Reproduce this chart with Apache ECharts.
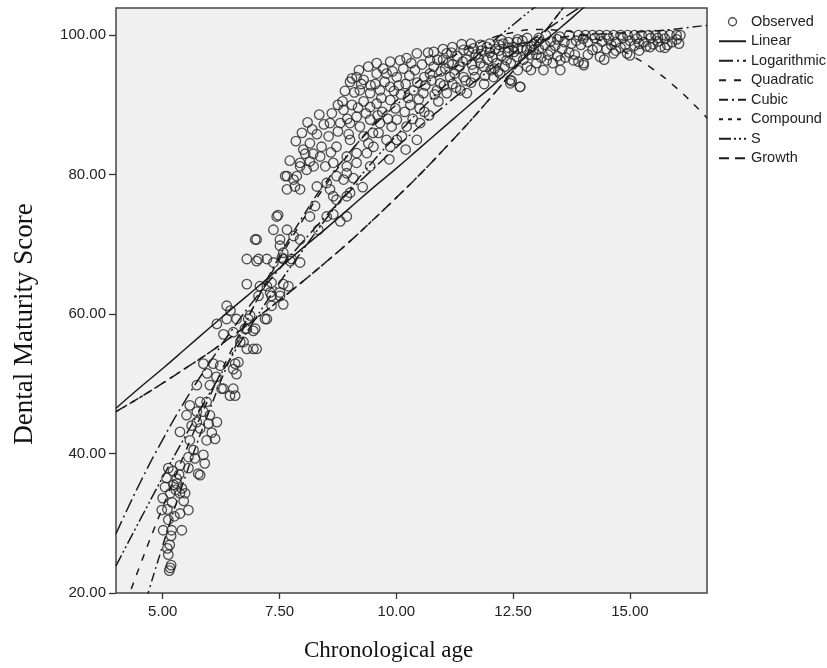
<!DOCTYPE html>
<html><head><meta charset="utf-8">
<script src="https://cdn.jsdelivr.net/npm/echarts@6/dist/echarts.min.js"></script>
<style>html,body{margin:0;padding:0;background:#fff}#c{width:827px;height:668px}</style>
</head><body><div id="c"></div>
<script>
const xTicks = [5, 7.5, 10, 12.5, 15];
const yTicks = [20, 40, 60, 80, 100];
const legendNames = ['Observed','Linear','Logarithmic','Quadratic','Cubic','Compound','S','Growth'];

const curveX = [4,4.5,5,5.5,6,6.5,7,7.5,8,8.5,9,9.5,10,10.5,11,11.5,12,12.5,13,13.5,14,14.5,15,15.5,16,16.5,16.65];
const linearY = [46.5,49.4,52.2,55.1,58.0,60.9,63.7,66.6,69.5,72.3,75.2,78.1,80.9,83.8,86.7,89.6,92.4,95.3,98.2,101.0,103.9,106.8,109.6,112.5,115.4,118.3,119.1];
const logY = [28.5,35.6,42.0,47.8,53.0,57.9,62.4,66.5,70.4,74.1,77.6,80.8,83.9,86.9,89.7,92.4,95.0,97.4,99.8,102.1,104.3,106.4,108.5,110.4,112.4,114.2,114.8];
const quadY = [14.5,23.7,32.3,40.5,48.1,55.2,61.8,67.9,73.5,78.6,83.1,87.1,90.6,93.6,96.1,98.0,99.5,100.4,100.8,100.7,100.0,98.9,97.2,95.1,92.4,89.2,88.1];
const cubicY = [3.3,15.6,26.8,37.0,46.2,54.5,61.8,68.3,74.0,79.0,83.2,86.9,90.0,92.5,94.6,96.2,97.5,98.5,99.2,99.7,100.0,100.2,100.4,100.6,100.9,101.3,101.4];
const compoundY = [46.0,48.0,50.1,52.3,54.5,56.9,59.4,62.0,64.7,67.5,70.4,73.5,76.7,80.0,83.5,87.1,90.9,94.9,99.0,103.3,107.8,112.5,117.4,122.5,127.8,133.4,135.1];
const sY = [23.9,30.3,36.6,42.7,48.6,54.2,59.5,64.5,69.2,73.7,77.9,81.9,85.6,89.2,92.5,95.7,98.7,101.5,104.2,106.7,109.2,111.5,113.7,115.8,117.8,119.7,120.2];
const growthY = [46.0,48.0,50.1,52.3,54.5,56.9,59.4,62.0,64.7,67.5,70.4,73.5,76.7,80.0,83.5,87.1,90.9,94.9,99.0,103.3,107.8,112.5,117.4,122.5,127.8,133.4,135.1];

// observed [age, score]
const observed = [
[5.16,23.6],[5.18,24.0],[5.14,23.2],[5.12,25.5],[5.15,26.9],[5.10,26.4],[5.01,29.0],[5.19,29.0],[5.41,29.0],[4.98,31.9],
[5.37,31.4],[5.55,31.9],[5.00,33.6],[5.16,34.3],[5.37,34.3],[5.48,34.3],[5.05,35.2],[5.30,35.7],[5.12,37.9],[5.37,38.3],
[5.55,37.9],[5.76,37.1],[5.23,35.5],[5.41,35.0],[5.30,36.4],[5.20,33.0],[5.10,32.0],[5.25,31.0],[5.08,36.5],[5.22,37.5],
[5.28,34.8],[5.12,30.5],[5.18,28.2],[5.45,33.2],[5.35,37.0],
[5.55,39.5],[5.69,39.3],[5.87,39.8],[5.58,41.9],[5.94,41.9],[6.12,42.1],[5.37,43.1],[5.73,44.5],[5.98,44.3],[6.16,44.5],
[5.80,43.6],[5.51,45.5],[5.73,46.0],[5.87,46.0],[6.01,45.5],[5.58,46.9],[5.80,47.4],[5.94,47.4],[5.66,40.5],[5.80,36.9],
[5.62,44.0],[6.05,43.0],[5.90,38.6],
[5.73,49.8],[6.01,49.8],[6.26,49.3],[6.44,48.3],[6.55,48.3],[5.87,52.9],[6.08,52.9],[6.23,52.6],[6.55,52.9],[6.58,51.4],
[6.30,49.3],[6.51,49.3],[6.62,53.1],[6.51,52.1],[6.15,51.0],[5.95,51.5],
[6.16,58.6],[6.37,59.3],[6.58,59.3],[6.83,59.3],[6.30,57.1],[6.51,57.4],[6.76,57.9],[6.94,57.6],[6.37,61.2],[6.66,56.0],
[6.80,55.0],[7.01,55.0],[6.73,56.0],[6.94,55.0],[7.23,59.3],[6.87,59.8],[6.80,57.9],[6.98,57.9],[7.19,59.3],[6.45,60.5],
[6.80,64.3],[7.08,64.0],[7.23,64.0],[7.30,63.1],[7.51,63.1],[7.58,64.3],[6.80,67.9],[7.01,67.6],[7.23,67.9],[7.37,67.4],
[7.55,68.1],[7.73,67.6],[7.33,61.2],[7.58,61.4],[7.05,62.6],[7.33,62.6],[7.51,62.6],[7.33,64.5],[7.69,64.0],[7.05,67.9],
[7.58,67.9],[7.76,67.9],[7.94,67.4],[7.51,69.8],[7.58,68.8],[6.98,70.7],
[7.66,79.8],[7.80,79.3],[7.94,81.2],[7.66,77.9],[7.83,78.3],[7.44,74.0],[7.37,72.1],[7.66,72.1],[7.01,70.7],[7.51,70.7],
[7.80,71.2],[8.01,83.6],[7.62,79.8],[7.87,79.8],[8.08,80.7],[8.23,81.2],[7.94,81.7],[8.15,81.9],[8.37,82.6],[7.94,77.9],
[8.30,78.3],[8.51,78.8],[8.72,79.8],[8.94,80.2],[9.15,81.7],[8.94,82.6],[9.15,83.1],[9.37,83.1],[7.47,74.2],[8.26,75.5],
[8.15,74.0],[8.65,76.9],[8.72,76.4],[8.51,74.0],[8.65,74.3],[8.94,76.9],[7.94,70.7],[8.33,72.1],[8.80,73.3],[8.94,74.0],
[8.15,84.5],[8.30,85.8],[8.45,87.2],[8.20,86.5],[8.05,83.0],[8.40,84.0],
[7.72,82.0],[7.85,84.8],[7.98,86.0],[8.10,87.5],[8.22,83.0],[8.35,88.6],[8.48,81.2],[8.60,83.2],[8.75,90.0],[8.90,92.0],
[8.98,85.8],[9.08,79.5],[9.28,78.2],[9.40,84.5],[9.62,86.0],[9.85,82.2],[10.20,83.6],[10.70,88.5],
[10.44,97.4],[10.72,96.4],[11.08,97.4],[11.44,97.9],[11.65,98.1],[11.94,98.3],[12.29,98.8],[12.58,99.0],
[9.58,96.0],[9.87,96.2],[10.08,96.4],[10.22,96.7],[9.15,94.0],[9.30,93.6],[9.58,94.5],[9.79,94.5],[10.01,94.0],
[9.01,93.3],[9.22,92.1],[9.44,91.7],[9.65,92.1],[9.87,92.6],[8.58,87.4],[8.80,87.4],[9.01,87.4],[9.22,86.9],[9.44,87.9],
[9.65,87.4],[9.90,86.9],[10.01,87.9],[10.22,86.9],[8.87,89.3],[9.15,88.3],[9.44,89.7],[9.58,90.2],[9.87,90.7],
[8.72,84.0],[9.01,85.0],[9.30,85.5],[9.51,84.0],[9.79,85.0],[10.01,85.0],[10.12,85.5],[8.65,81.7],[8.94,81.2],[9.44,81.2],
[9.87,84.0],[10.44,85.0],[10.51,87.4],[8.87,79.3],[9.01,77.4],[8.58,77.9],
[10.72,94.5],[10.94,93.1],[11.15,94.0],[11.44,94.0],[11.65,95.0],[11.87,95.5],[12.15,96.0],[12.36,96.4],[12.58,96.9],[12.79,97.9],
[10.37,92.1],[10.58,91.7],[10.87,92.1],[11.08,91.7],[11.37,92.1],[11.51,91.7],[12.08,94.0],[12.44,93.1],[12.65,92.6],
[10.20,93.0],[10.40,95.0],[10.60,94.0],[10.30,90.0],[10.10,91.5],[9.70,89.0],[9.30,90.5],[10.50,89.5],[10.80,95.5],[11.00,96.5],
[11.20,95.8],[11.30,97.0],[11.50,96.5],[11.70,97.2],[11.80,96.0],[12.00,97.5],[12.20,97.8],[12.40,98.2],[12.10,95.2],[11.90,94.2],
[11.60,93.2],[11.20,93.0],[10.90,90.5],[10.60,89.0],[10.35,88.0],[9.95,92.0],[9.75,93.3],[9.55,93.0],[9.40,95.5],[9.20,95.0],[9.05,93.8],
[8.55,85.5],[8.62,88.8],[8.75,86.2],[8.85,90.5],[8.95,88.0],[9.05,90.0],[9.10,91.8],[9.18,89.6],[9.25,93.0],[9.35,88.8],
[9.45,92.8],[9.50,86.0],[9.60,88.5],[9.68,91.0],[9.72,95.2],[9.82,88.0],[9.92,94.8],[9.98,89.5],[10.05,92.8],[10.15,95.2],
[10.18,89.0],[10.25,91.0],[10.28,94.2],[10.32,96.0],[10.45,93.2],[10.48,90.8],[10.55,95.8],[10.62,92.8],[10.68,97.5],[10.75,93.5],
[10.82,91.5],[10.88,96.5],[10.95,94.8],[11.02,92.8],[11.05,95.2],[11.12,96.0],[11.18,97.5],[11.25,94.5],[11.28,92.5],[11.35,95.5],
[11.42,96.2],[11.48,93.5],[11.55,97.8],[11.62,95.8],[11.68,94.0],[11.75,96.8],[11.82,97.8],[11.88,93.0],[11.95,96.5],[12.02,95.0],
[12.06,96.8],[12.12,98.0],[12.18,94.8],[12.25,97.0],[12.32,95.5],[12.38,97.5],[12.45,96.0],[12.52,97.6],[12.60,95.0],[12.68,98.2],
[12.72,96.5],[12.85,97.2],[12.88,95.0],[12.95,98.8],[13.05,98.0],[13.10,96.8],[13.18,98.6],[13.25,97.2],[13.35,96.0],[13.45,97.0],
[13.55,98.0],[13.62,96.8],[13.75,98.8],[13.82,97.2],[13.90,96.2],[14.10,97.2],[14.30,98.2],[14.45,96.5],[14.70,97.8],[14.90,98.6],
[15.20,97.8],[15.35,98.4],[15.60,99.6],[15.75,98.2],[16.00,99.4],[16.05,98.8],[14.00,99.5],[14.25,99.6],[14.55,99.5],[14.85,99.6],
[15.15,99.5],[15.45,99.6],[15.75,99.5],[13.05,99.6],[13.45,99.4],[12.60,99.4],[12.25,99.3],
[13.90,100],[14.05,100],[14.20,100],[14.35,100],[14.50,100],[14.65,100],[14.80,100],[14.95,100],[15.10,100],[15.25,100],
[15.40,100],[15.55,100],[15.70,100],[15.85,100],[16.00,100],[16.08,100],[13.20,100],[13.50,99.8],[12.80,99.6],[13.70,100],
[12.40,99.0],[12.70,99.2],[13.00,99.0],[13.30,99.1],[13.60,99.0],[13.85,99.2],[14.10,99.0],[14.40,99.1],[14.70,99.0],[15.00,99.2],
[15.30,99.0],[15.60,99.1],[15.90,99.0],[15.20,98.8],[14.60,98.6],[13.95,98.6],[13.40,98.5],[12.90,98.4],[12.60,98.0],[12.20,98.6],
[12.00,98.8],[11.80,98.6],[11.60,98.8],[11.40,98.7],[11.20,98.3],[11.00,98.0],[10.80,97.6],
[12.51,98.3],[12.94,97.9],[13.22,96.4],[13.51,96.4],[13.79,96.4],[14.01,96.0],[14.36,96.9],[14.65,97.4],[14.94,97.4],[15.43,98.3],
[15.65,98.3],[13.15,95.0],[13.51,95.0],[14.01,95.7],[15.00,97.1],[12.22,94.5],[12.44,93.6],[12.65,92.6],[13.00,97.2],[13.30,97.8],
[13.70,97.5],[14.20,97.9],[14.50,98.0],[14.80,98.2],[15.10,98.5],[15.50,98.7],[15.80,98.6],[13.00,96.0],[12.80,95.5],[12.47,93.4]
];

const pairs = ys => curveX.map((x, i) => [x, ys[i]]);
const ink = '#1c1c1c';
function curve(name, ys, dash) {
  return {
    name, type: 'line', data: pairs(ys), smooth: true, symbol: 'none', showSymbol: false,
    clip: true, silent: true, z: 3,
    itemStyle: { color: ink },
    lineStyle: { color: ink, width: 1.5, type: dash }
  };
}
const hiddenDot = { opacity: 0, color: 'rgba(0,0,0,0)', borderWidth: 0 };

const chart = echarts.init(document.getElementById('c'), null, { renderer: 'canvas' });
chart.setOption({
  animation: false,
  backgroundColor: '#ffffff',
  grid: { left: 116, top: 8, width: 591, height: 585, show: true, backgroundColor: '#f0f0f0', borderColor: '#444', borderWidth: 1.5, containLabel: false },
  legend: {
    orient: 'vertical', left: 713, top: 9, itemWidth: 27, itemHeight: 8, itemGap: 4, selectedMode: false,
    textStyle: { fontFamily: 'Liberation Sans, Arial, sans-serif', fontSize: 14.5, color: '#222', lineHeight: 15.5 },
    data: [
      { name: 'Observed', icon: 'circle', itemStyle: { color: 'rgba(0,0,0,0)', borderColor: '#222', borderWidth: 1.4 } },
      { name: 'Linear', itemStyle: hiddenDot },
      { name: 'Logarithmic', itemStyle: hiddenDot },
      { name: 'Quadratic', itemStyle: hiddenDot },
      { name: 'Cubic', itemStyle: hiddenDot },
      { name: 'Compound', itemStyle: hiddenDot },
      { name: 'S', itemStyle: hiddenDot },
      { name: 'Growth', itemStyle: hiddenDot }
    ]
  },
  xAxis: {
    type: 'value', min: 4, max: 16.65,
    axisLine: { show: false },
    splitLine: { show: false },
    axisTick: { show: true, customValues: xTicks, length: 6, lineStyle: { color: '#333', width: 1.3 } },
    axisLabel: { customValues: xTicks, formatter: v => v.toFixed(2), margin: 11, fontFamily: 'Liberation Sans, Arial, sans-serif', fontSize: 15, color: '#222' }
  },
  yAxis: {
    type: 'value', min: 20, max: 103.9, interval: 20,
    axisLine: { show: false },
    splitLine: { show: false },
    axisTick: { show: true, customValues: yTicks, length: 7, lineStyle: { color: '#333', width: 1.3 } },
    axisLabel: { customValues: yTicks, formatter: v => v.toFixed(2), margin: 10, fontFamily: 'Liberation Sans, Arial, sans-serif', fontSize: 15, color: '#222' }
  },
  graphic: [
    { type: 'text', left: 304, top: 639, style: { text: 'Chronological age', font: '23px "Liberation Serif", "Times New Roman", serif', fill: '#111' } },
    { type: 'text', x: 25, y: 324, rotation: Math.PI / 2, style: { text: 'Dental Maturity Score', font: '27px "Liberation Serif", "Times New Roman", serif', fill: '#111', align: 'center', verticalAlign: 'middle' } }
  ],
  series: [
    {
      name: 'Observed', type: 'scatter', data: observed, symbol: 'circle', symbolSize: 9.5, z: 2, silent: true,
      itemStyle: { color: 'rgba(0,0,0,0)', borderColor: '#262626', borderWidth: 1.3 }
    },
    curve('Linear', linearY, 'solid'),
    curve('Logarithmic', logY, [14, 4, 2, 4]),
    curve('Quadratic', quadY, [7, 8]),
    curve('Cubic', cubicY, [9, 4, 2, 4]),
    curve('Compound', compoundY, [4, 5]),
    curve('S', sY, [12, 3, 2, 3, 2, 3]),
    curve('Growth', growthY, [10, 6])
  ]
});
</script></body></html>
